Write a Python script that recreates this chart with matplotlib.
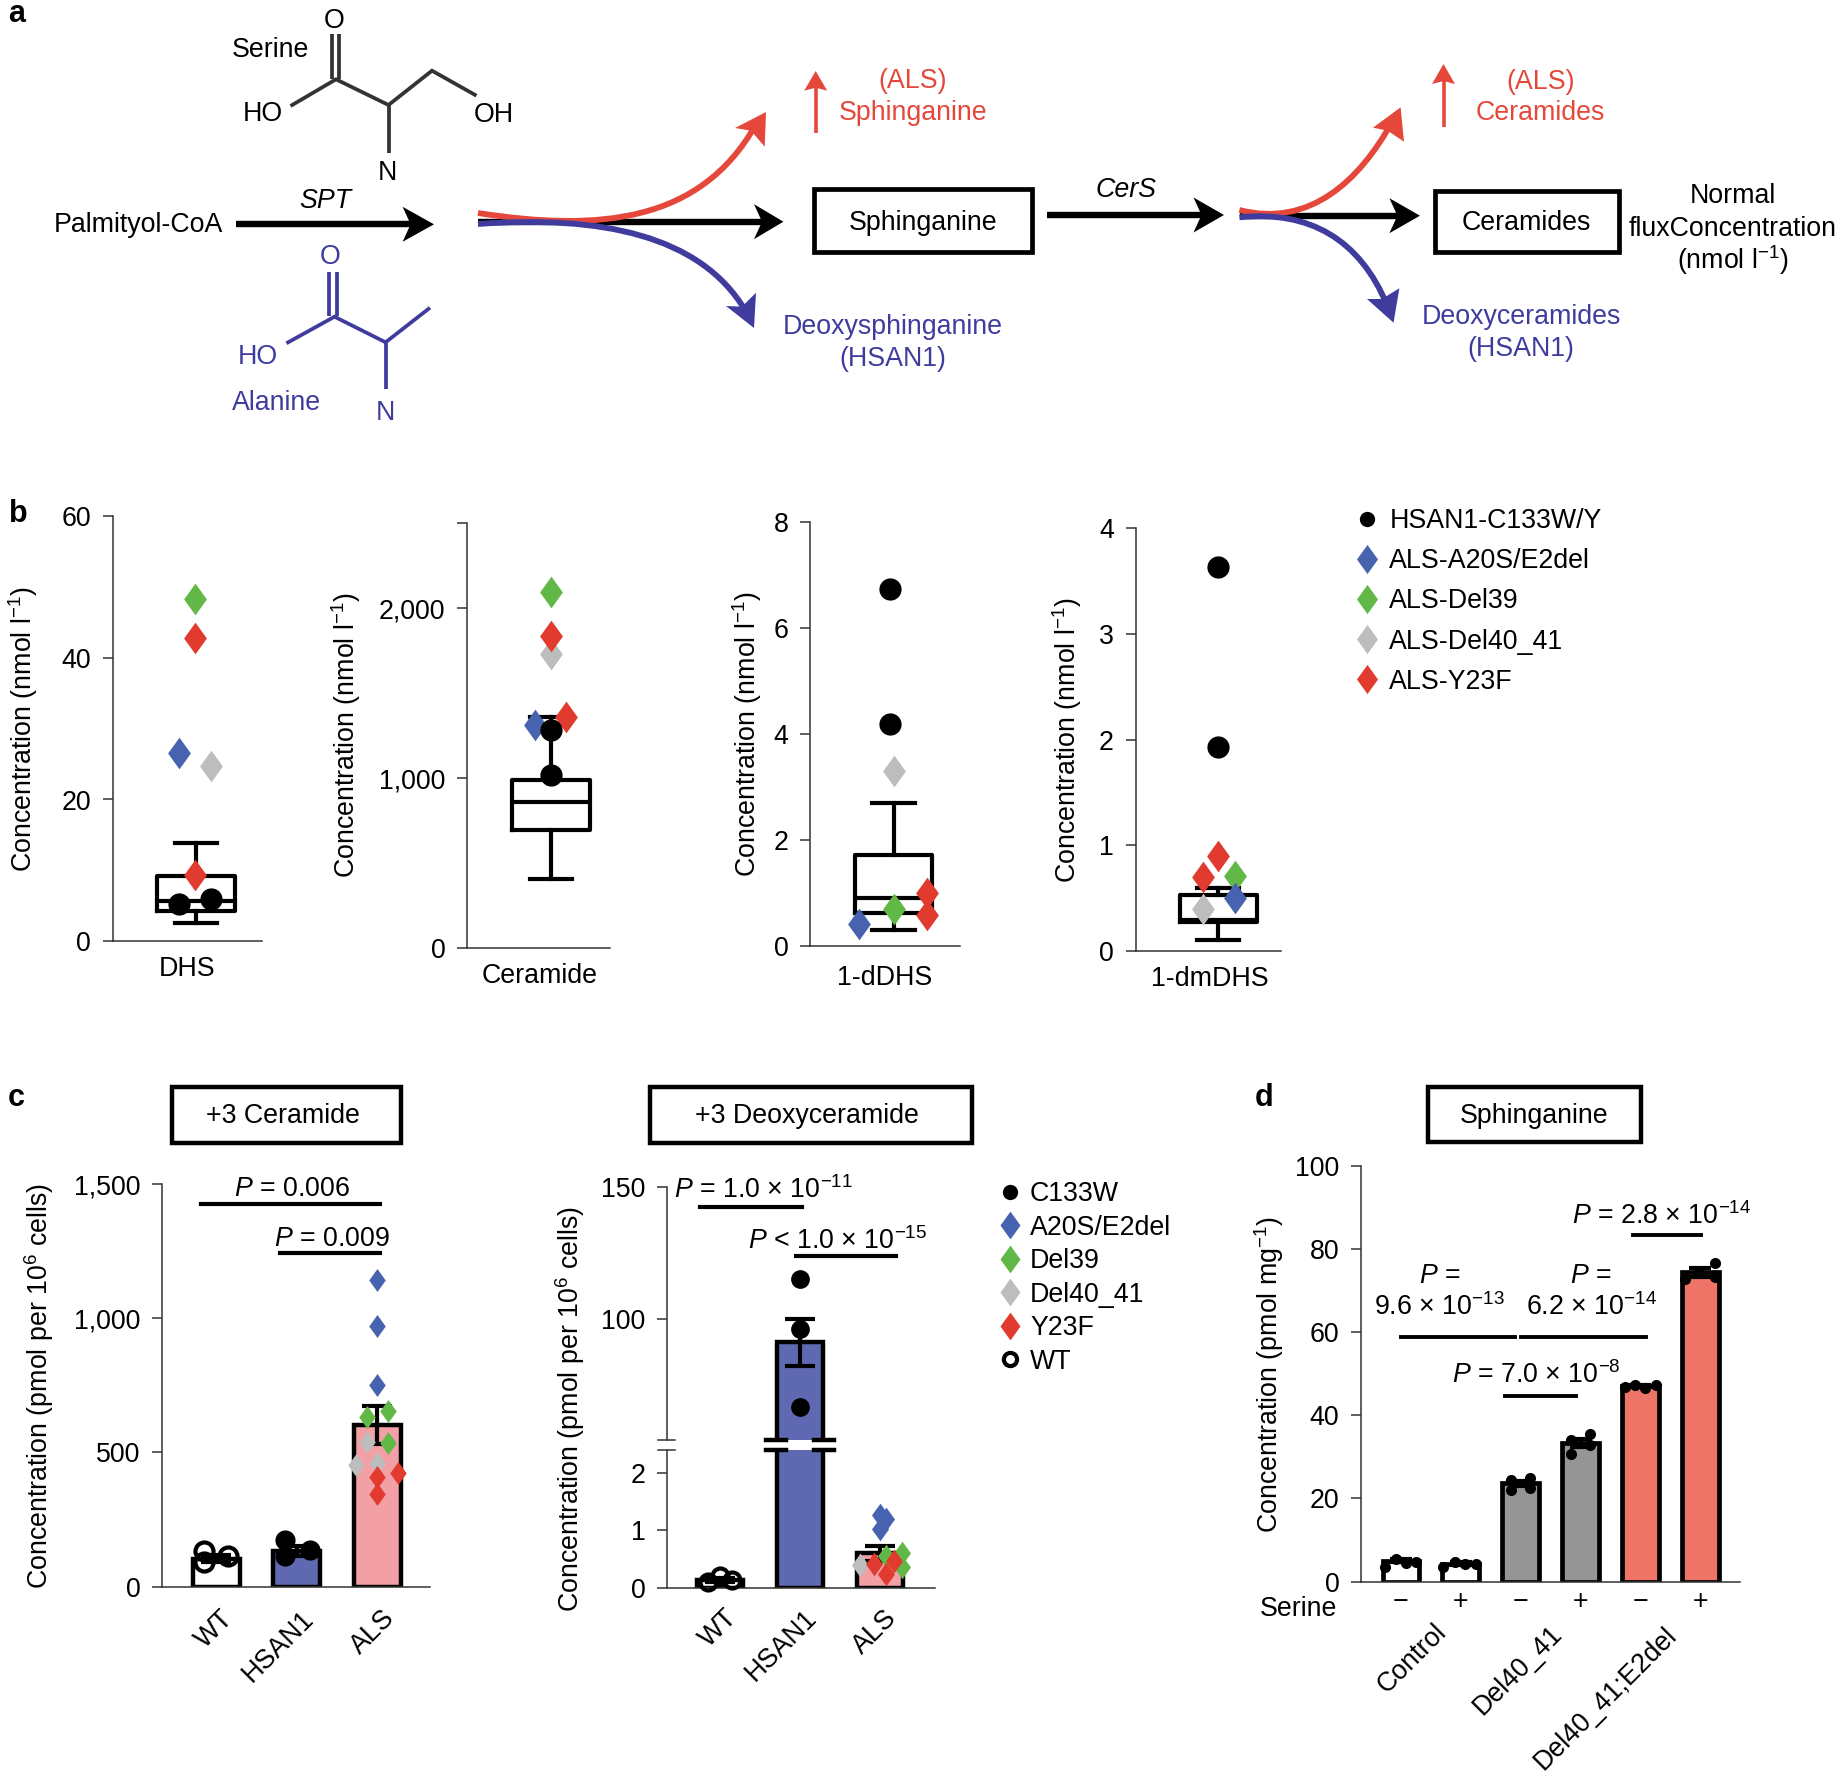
import matplotlib
matplotlib.use('Agg')
import matplotlib.pyplot as plt
from matplotlib.lines import Line2D
from matplotlib.patches import Polygon, Rectangle, PathPatch
from matplotlib.path import Path
from matplotlib.transforms import ScaledTranslation

plt.rcParams['font.family'] = ['Liberation Sans', 'DejaVu Sans']
plt.rcParams['mathtext.fontset'] = 'custom'
plt.rcParams['mathtext.rm'] = 'Liberation Sans'
plt.rcParams['mathtext.it'] = 'Liberation Sans:italic'
plt.rcParams['mathtext.bf'] = 'Liberation Sans:bold'

# panel b: box stats are q1, median, q3, whisker low, whisker high
dhs_box = [4.2, 5.6, 9.25, 2.6, 13.85]
dhs_c133 = [5.3, 5.9]
dhs_a20s = [26.6]
dhs_del39 = [48.4]
dhs_del40 = [24.7]
dhs_y23f = [42.8, 9.3]

cer_box = [696, 856, 989, 405, 1360]
cer_c133 = [1280, 1017]
cer_a20s = [1314]
cer_del39 = [2096]
cer_del40 = [1732]
cer_y23f = [1838, 1361]

ddhs_box = [0.63, 0.91, 1.72, 0.30, 2.70]
ddhs_c133 = [6.72, 4.19]
ddhs_a20s = [0.41]
ddhs_del39 = [0.70]
ddhs_del40 = [3.30]
ddhs_y23f = [1.00, 0.59]

dmdhs_box = [0.27, 0.29, 0.53, 0.10, 0.60]
dmdhs_c133 = [3.63, 1.93]
dmdhs_a20s = [0.50]
dmdhs_del39 = [0.71]
dmdhs_del40 = [0.40]
dmdhs_y23f = [0.90, 0.70]

# panel c
groups_c = ['WT', 'HSAN1', 'ALS']
cer3_bars = [105, 134, 603]
cer3_err = [12, 18, 70]
cer3_wt = [134, 93, 113]
cer3_hsan = [173, 113, 137]
cer3_a20s = [1141, 971, 753]
cer3_del39 = [632, 654, 534]
cer3_del40 = [539, 454, 461]
cer3_y23f = [409, 425, 344]

dcer3_bars = [0.14, 91, 0.60]
dcer3_err = [0.03, 9, 0.135]
dcer3_wt = [0.11, 0.21, 0.14]
dcer3_hsan = [115, 96, 66.6]
dcer3_a20s = [1.26, 1.19, 1.03]
dcer3_del39 = [0.56, 0.61, 0.37]
dcer3_del40 = [0.40]
dcer3_y23f = [0.42, 0.47, 0.24]

# panel d
serine_labels = ['\u2212', '+', '\u2212', '+', '\u2212', '+']
sph_bars = [5.0, 4.3, 23.7, 33.4, 47.0, 74.4]
sph_err = [0.4, 0.3, 0.6, 1.0, 0.2, 1.0]
sph_points = [[3.6, 5.5, 4.4, 4.8], [3.6, 4.7, 4.1, 4.1], [24.5, 22.1, 25.0, 22.6],
              [34.0, 30.8, 35.5, 32.8], [46.7, 47.2, 46.5, 47.2], [72.9, 76.7, 73.2, 74.3]]

W, H = 1842, 1776
BLUE, GREEN, GRAY, RED = '#4762AE', '#62B847', '#BDBDBD', '#E03B2E'
SRED, SBLUE = '#E5483B', '#3F3C9E'
FS = 19.3
DIAMOND = [(0, 1), (0.72, 0), (0, -1), (-0.72, 0), (0, 1)]

fig = plt.figure(figsize=(W / 100, H / 100), dpi=100)


def panel(xl, xr, ytop, ybot, c0, unit):
    # axes placed by pixel edges, x data unit = one box/bar spacing
    ax = fig.add_axes([xl / W, 1 - ybot / H, (xr - xl) / W, (ybot - ytop) / H])
    ax.set_xlim((xl - c0) / unit, (xr - c0) / unit)
    ax.patch.set_alpha(0)
    for s in ['top', 'right']:
        ax.spines[s].set_visible(False)
    for s in ['left', 'bottom']:
        ax.spines[s].set_linewidth(1.1)
        ax.spines[s].set_color('#333333')
    ax.tick_params(axis='y', length=7.5, width=1.1, pad=8, labelsize=FS, color='#333333')
    ax.tick_params(axis='x', length=0, labelsize=FS)
    return ax


def ylab(ax, s, x, y):
    ax.set_ylabel(s, fontsize=FS)
    ax.yaxis.set_label_coords(x / W, 1 - y / H, transform=fig.transFigure)


def pts(ax, vals, jit, color, marker='o', ms=16, **kw):
    ax.plot(jit, vals, ls='none', marker=marker, ms=ms, color=color, mew=0, clip_on=False, zorder=5, **kw)


def boxpanel(xl, xr, ytop, ybot, c0, ylim, ticks, ticklabels, box, name, lab_x=-0.11, pad=11):
    ax = panel(xl, xr, ytop, ybot, c0, 81.0)
    ax.set_ylim(*ylim)
    ax.set_yticks(ticks, ticklabels)
    st = {'q1': box[0], 'med': box[1], 'q3': box[2], 'whislo': box[3], 'whishi': box[4], 'fliers': []}
    lp = {'color': 'black', 'linewidth': 3.0}
    ax.bxp([st], positions=[0], widths=[0.96], showfliers=False, capwidths=[0.52], boxprops=lp,
           medianprops=lp, whiskerprops=lp, capprops=lp, manage_ticks=False)
    ax.set_xticks([lab_x], [name])
    ax.tick_params(axis='x', pad=pad)
    return ax


# ---- panel b
ax = boxpanel(112.6, 262, 516.5, 941, 196.3, (0, 60), [0, 20, 40, 60], ['0', '20', '40', '60'], dhs_box, 'DHS')
ylab(ax, 'Concentration (nmol l$^{-1}$)', 40, 729)
pts(ax, dhs_c133, [-0.21, 0.18], 'black', ms=16)
pts(ax, dhs_a20s, [-0.21], BLUE, DIAMOND, 22.8)
pts(ax, dhs_del39, [-0.01], GREEN, DIAMOND, 22.8)
pts(ax, dhs_del40, [0.18], GRAY, DIAMOND, 22.8)
pts(ax, dhs_y23f, [-0.01, -0.01], RED, DIAMOND, 22.8)

ax = boxpanel(467, 610, 523, 948, 551, (0, 2500), [0, 1000, 2000], ['0', '1,000', '2,000'], cer_box, 'Ceramide',
              lab_x=-0.14)
ax.yaxis.set_ticks([2500], minor=True)
ax.tick_params(axis='y', which='minor', length=7.5, width=1.1, color='#333333')
ylab(ax, 'Concentration (nmol l$^{-1}$)', 363, 735)
pts(ax, cer_del40, [0], GRAY, DIAMOND, 22.8)
pts(ax, cer_del39, [0], GREEN, DIAMOND, 22.8)
pts(ax, cer_y23f, [0, 0.19], RED, DIAMOND, 22.8)
pts(ax, cer_a20s, [-0.2], BLUE, DIAMOND, 22.8)
pts(ax, cer_c133, [0, 0], 'black', ms=16)

ax = boxpanel(810, 960, 521.5, 946, 893.5, (0, 8), [0, 2, 4, 6, 8], ['0', '2', '4', '6', '8'], ddhs_box, '1-dDHS',
              pad=14)
ylab(ax, 'Concentration (nmol l$^{-1}$)', 764, 734)
pts(ax, ddhs_c133, [-0.04, -0.04], 'black', ms=16)
pts(ax, ddhs_a20s, [-0.42], BLUE, DIAMOND, 22.8)
pts(ax, ddhs_del39, [0], GREEN, DIAMOND, 22.8)
pts(ax, ddhs_del40, [0], GRAY, DIAMOND, 22.8)
pts(ax, ddhs_y23f, [0.41, 0.41], RED, DIAMOND, 22.8)

ax = boxpanel(1135.5, 1281, 528, 951, 1218.4, (0, 4), [0, 1, 2, 3, 4], ['0', '1', '2', '3', '4'], dmdhs_box, '1-dmDHS')
ylab(ax, 'Concentration (nmol l$^{-1}$)', 1084, 740)
pts(ax, dmdhs_c133, [0, 0], 'black', ms=16)
pts(ax, dmdhs_del39, [0.2], GREEN, DIAMOND, 22.8)
pts(ax, dmdhs_del40, [-0.19], GRAY, DIAMOND, 22.8)
pts(ax, dmdhs_y23f, [0, -0.19], RED, DIAMOND, 22.8)
pts(ax, dmdhs_a20s, [0.2], BLUE, DIAMOND, 22.8)

legend_b = [Line2D([], [], ls='none', marker='o', ms=11, color='black', mew=0)]
for c in [BLUE, GREEN, GRAY, RED]:
    legend_b.append(Line2D([], [], ls='none', marker=DIAMOND, ms=21, color=c, mew=0))
fig.legend(legend_b, ['HSAN1-C133W/Y', 'ALS-A20S/E2del', 'ALS-Del39', 'ALS-Del40_41', 'ALS-Y23F'],
           loc='upper left', bbox_to_anchor=(1350 / W, 1 - 508 / H), frameon=False, fontsize=FS,
           labelspacing=0.53, handletextpad=0.17, borderpad=0, borderaxespad=0, handlelength=1.3)


def bars(ax, vals, err, colors, width):
    ax.bar(range(len(vals)), vals, width=width, color=colors, edgecolor='black', linewidth=3.2, zorder=2)
    ax.errorbar(range(len(vals)), vals, yerr=err, ls='none', ecolor='black', elinewidth=3, capsize=10.5,
                capthick=3, zorder=3)


def rot_labels(ax, labels, dx, pad):
    ax.set_xticks(range(len(labels)), labels, rotation=45, ha='right', rotation_mode='anchor')
    ax.tick_params(axis='x', pad=pad)
    off = ScaledTranslation(dx / 100, 0, fig.dpi_scale_trans)
    for t in ax.get_xticklabels():
        t.set_transform(t.get_transform() + off)


# ---- panel c, +3 ceramide
ax = panel(162.3, 430, 1184, 1586.7, 216.2, 80.5)
ax.set_ylim(0, 1500)
ax.set_yticks([0, 500, 1000, 1500], ['0', '500', '1,000', '1,500'])
bars(ax, cer3_bars, cer3_err, ['white', '#5F69B1', '#F2A0A5'], 0.585)
rot_labels(ax, groups_c, 4, 13.5)
ylab(ax, 'Concentration (pmol per 10$^{6}$ cells)', 56, 1386)
ax.plot([-0.15, -0.15, 0.15], cer3_wt, ls='none', marker='o', ms=13, mfc='none', mec='black', mew=3, zorder=5)
pts(ax, cer3_hsan, [0.85, 0.85, 1.16], 'black', ms=14.5)
pts(ax, cer3_a20s, [2, 2, 2], BLUE, DIAMOND, 16.5)
pts(ax, cer3_del39, [1.87, 2.13, 2.13], GREEN, DIAMOND, 16.5)
pts(ax, cer3_del40, [1.87, 1.74, 2], GRAY, DIAMOND, 16.5)
pts(ax, cer3_y23f, [2, 2.26, 2], RED, DIAMOND, 16.5)
ax.plot([-0.185, 2.03], [1426, 1426], color='black', lw=3, clip_on=False)
ax.plot([0.79, 2.03], [1242, 1242], color='black', lw=3, clip_on=False)

# ---- panel c, +3 deoxyceramide, broken axis
c0, unit = 720, 80
low = panel(667, 934.6, 1449.6, 1588, c0, unit)
up = panel(667, 934.6, 1187, 1440, c0, unit)
low.set_ylim(0, 2.4)
up.set_ylim(54, 150)
low.set_yticks([0, 1, 2], ['0', '1', '2'])
up.set_yticks([100, 150], ['100', '150'])
up.spines['bottom'].set_visible(False)
up.set_xticks([])
dcer_colors = ['white', '#5F69B1', '#F2A0A5']
for a in [low, up]:
    bars(a, dcer3_bars, dcer3_err, dcer_colors, 0.575)
rot_labels(low, groups_c, 4, 12)
ylab(low, 'Concentration (pmol per 10$^{6}$ cells)', 587, 1409)
low.plot([-0.15, 0, 0.15], dcer3_wt, ls='none', marker='o', ms=11.5, mfc='none', mec='black', mew=3, zorder=5, clip_on=False)
pts(up, dcer3_hsan, [1, 1, 1], 'black', ms=13.5)
pts(low, dcer3_a20s, [2, 2.08, 2], BLUE, DIAMOND, 17)
pts(low, dcer3_del39, [2.08, 2.27, 2.27], GREEN, DIAMOND, 17)
pts(low, dcer3_del40, [1.75], GRAY, DIAMOND, 17)
pts(low, dcer3_y23f, [1.92, 2.17, 2.08], RED, DIAMOND, 17)
up.plot([-0.255, 1.02], [142.5, 142.5], color='black', lw=3, clip_on=False)
up.plot([0.95, 2.2], [123.9, 123.9], color='black', lw=3, clip_on=False)
# break marks
for a, yb in [(up, 54), (low, 2.4)]:
    a.plot([(658 - c0) / unit, (675 - c0) / unit], [yb, yb], color='#333333', lw=1.1, clip_on=False)
    a.plot([(766 - c0) / unit, (786 - c0) / unit], [yb, yb], color='black', lw=3.2, clip_on=False, zorder=4)
    a.plot([(814 - c0) / unit, (834 - c0) / unit], [yb, yb], color='black', lw=3.2, clip_on=False, zorder=4)

legend_c = [Line2D([], [], ls='none', marker='o', ms=11, color='black', mew=0)]
for c in [BLUE, GREEN, GRAY, RED]:
    legend_c.append(Line2D([], [], ls='none', marker=DIAMOND, ms=20, color=c, mew=0))
legend_c.append(Line2D([], [], ls='none', marker='o', ms=9.5, mfc='none', mec='black', mew=3))
fig.legend(legend_c, ['C133W', 'A20S/E2del', 'Del39', 'Del40_41', 'Y23F', 'WT'],
           loc='upper left', bbox_to_anchor=(993 / W, 1 - 1181 / H), frameon=False, fontsize=FS,
           labelspacing=0.28, handletextpad=0.08, borderpad=0, borderaxespad=0, handlelength=1.3)

# ---- panel d
ax = panel(1361, 1740, 1166, 1581.5, 1400.8, 59.9)
ax.set_ylim(0, 100)
ax.set_yticks([0, 20, 40, 60, 80, 100], ['0', '20', '40', '60', '80', '100'])
d_colors = ['white', 'white', '#959595', '#959595', '#EE7468', '#EE7468']
ax.bar(range(6), sph_bars, width=0.61, color=d_colors, edgecolor='black', linewidth=3.4, zorder=2)
ax.errorbar(range(6), sph_bars, yerr=sph_err, ls='none', ecolor='black', elinewidth=3, capsize=8, capthick=3, zorder=3)
d_jit = [[-0.26, -0.08, 0.08, 0.26], [-0.3, -0.09, 0.08, 0.25], [-0.16, -0.16, 0.15, 0.15],
         [-0.16, -0.16, 0.16, 0.16], [-0.25, -0.09, 0.08, 0.26], [-0.26, 0.25, 0.25, -0.03]]
for i in range(6):
    pts(ax, sph_points[i], [i + j for j in d_jit[i]], 'black', ms=8)
ax.set_xticks(range(6), serine_labels)
ax.tick_params(axis='x', pad=5.5)
ylab(ax, 'Concentration (pmol mg$^{-1}$)', 1286, 1374)
for xs, y in [([0, 1.9], 58.9), ([2.0, 4.1], 58.9), ([1.74, 2.92], 44.6), ([3.88, 5.02], 83.4)]:
    ax.plot(xs, [y, y], color='black', lw=2.8, clip_on=False)

# ---- overlay in pixel coordinates for the schematic and annotations
ov = fig.add_axes([0, 0, 1, 1], zorder=20)
ov.set_xlim(0, W)
ov.set_ylim(H, 0)
ov.axis('off')
ov.patch.set_alpha(0)


def txt(x, y, s, color='black', ha='center', va='center', fs=FS, **kw):
    ov.text(x, y + 2.5, s, color=color, ha=ha, va=va, fontsize=fs, **kw)


def head(tip, b1, b2, notch, color):
    ov.add_patch(Polygon([tip, b1, notch, b2], closed=True, fc=color, ec='none', zorder=6))


def black_arrow(x0, base, tip, y):
    ov.plot([x0, base + 10], [y, y], color='black', lw=4.6, solid_capstyle='butt', zorder=3)
    head((tip, y), (base, y - 17.5), (base, y + 17.5), (base + 8, y), 'black')


def curve(p0, p1, p2, p3, color):
    path = Path([p0, p1, p2, p3], [Path.MOVETO, Path.CURVE4, Path.CURVE4, Path.CURVE4])
    ov.add_patch(PathPatch(path, fc='none', ec=color, lw=4.2, capstyle='butt', zorder=5))


def chem(points, color):
    xs, ys = zip(*points)
    ov.plot(xs, ys, color=color, lw=2.7, solid_joinstyle='miter', solid_capstyle='butt')


def up_arrow(x, y0, base, tip):
    ov.plot([x, x], [y0, base - 5], color=SRED, lw=2.6, solid_capstyle='butt')
    head((x, tip), (x - 11.5, base), (x + 11.5, base), (x, base - 3), SRED)


for x, y, s in [(17, 12, 'a'), (18, 511.5, 'b'), (16, 1095.5, 'c'), (1264, 1095, 'd')]:
    txt(x, y, s, fs=22, fontweight='bold')

# serine
txt(270, 47.7, 'Serine')
txt(334.5, 18, 'O')
txt(263, 111.7, 'HO')
txt(494, 112.3, 'OH')
txt(387, 171, 'N')
chem([(290.5, 106), (336, 79.3), (388.5, 105), (432, 70.7), (476.5, 95.7)], '#333333')
chem([(388.5, 105), (388.5, 152.7)], '#333333')
chem([(332, 34), (332, 79)], '#333333')
chem([(339, 34), (339, 79)], '#333333')
# alanine
txt(330.4, 254, 'O', SBLUE)
txt(258, 354, 'HO', SBLUE)
txt(277, 400, 'Alanine', SBLUE)
txt(385.6, 410, 'N', SBLUE)
chem([(286.4, 343.3), (334.5, 316.7), (385.6, 342.3), (430, 307.7)], SBLUE)
chem([(385.6, 342.3), (385.6, 389.3)], SBLUE)
chem([(329, 271.7), (329, 316)], SBLUE)
chem([(336.5, 271.7), (336.5, 316)], SBLUE)

txt(54, 223, 'Palmityol-CoA', ha='left')
txt(325.7, 198, 'SPT', style='italic')
black_arrow(236, 402.6, 434, 224.3)
black_arrow(478, 754, 783.4, 221.7)
curve((478, 213), (600, 232), (700, 222), (755, 126), SRED)
head((766, 112), (735, 128), (764.7, 146.7), (751, 130.7), SRED)
curve((478, 224), (600, 215), (700, 235), (745, 310), SBLUE)
head((754, 328), (726, 306), (756, 292.7), (742, 306.7), SBLUE)
up_arrow(815.7, 132.7, 90.7, 71)
txt(912.7, 78.7, '(ALS)', SRED)
txt(912.7, 110, 'Sphinganine', SRED)
txt(892.8, 325, 'Deoxysphinganine', SBLUE)
txt(892.8, 357, '(HSAN1)', SBLUE)
ov.add_patch(Rectangle((814, 189), 217.7, 62.7, fc='white', ec='black', lw=3.4, zorder=4))
ov.text(923, 223.5, 'Sphinganine', ha='center', va='center', fontsize=FS, zorder=7)

txt(1125.9, 187.3, 'CerS', style='italic')
black_arrow(1046.5, 1193.5, 1224, 215)
black_arrow(1240, 1389.4, 1420, 215.7)
curve((1239.4, 210), (1310, 228), (1360, 180), (1392, 122), SRED)
head((1400.6, 107.3), (1373, 127.7), (1404, 141.7), (1387.6, 130.7), SRED)
curve((1239.4, 217.3), (1310, 210), (1360, 240), (1387, 305), SBLUE)
head((1393.5, 322.7), (1367, 299), (1399.4, 288.3), (1381.8, 299), SBLUE)
up_arrow(1443.5, 126.7, 84, 64)
txt(1540.6, 79.3, '(ALS)', SRED)
txt(1540.6, 110.7, 'Ceramides', SRED)
txt(1521, 315, 'Deoxyceramides', SBLUE)
txt(1521, 346.7, '(HSAN1)', SBLUE)
ov.add_patch(Rectangle((1434.7, 190.7), 184, 61.6, fc='white', ec='black', lw=3.4, zorder=4))
ov.text(1526, 223, 'Ceramides', ha='center', va='center', fontsize=FS, zorder=7)
txt(1733, 193.3, 'Normal')
txt(1733, 226, 'fluxConcentration')
txt(1733, 258, '(nmol l$^{-1}$)')

# title boxes of c and d
for x0, x1, y0, y1, s, tx in [(171.7, 401, 1087, 1142.6, '+3 Ceramide', 283),
                              (650, 971.5, 1087, 1142.6, '+3 Deoxyceramide', 806.7),
                              (1428, 1640.6, 1086.7, 1142, 'Sphinganine', 1534.3)]:
    ov.add_patch(Rectangle((x0, y0), x1 - x0, y1 - y0, fc='white', ec='black', lw=3.2))
    txt(tx, (y0 + y1) / 2 - 1, s)

# P value labels
txt(291.7, 1186, r'$\mathit{P}$ = 0.006')
txt(332, 1236, r'$\mathit{P}$ = 0.009')
txt(763, 1188, r'$\mathit{P}$ = 1.0 × 10$^{-11}$')
txt(838, 1239, r'$\mathit{P}$ < 1.0 × 10$^{-15}$')
txt(1440, 1273.5, r'$\mathit{P}$ =')
txt(1439, 1305, '9.6 × 10$^{-13}$')
txt(1591, 1273.5, r'$\mathit{P}$ =')
txt(1591, 1305, '6.2 × 10$^{-14}$')
txt(1536.4, 1372.6, r'$\mathit{P}$ = 7.0 × 10$^{-8}$')
txt(1662, 1214, r'$\mathit{P}$ = 2.8 × 10$^{-14}$')

# serine row and genotype labels of d
txt(1337, 1606.5, 'Serine', ha='right')
for x, y, s in [(1443, 1628, 'Control'), (1558, 1630, 'Del40_41'), (1673, 1631, 'Del40_41;E2del')]:
    ov.text(x, y, s, rotation=45, ha='right', va='center', rotation_mode='anchor', fontsize=FS)

fig.savefig('out.png', dpi=100)
